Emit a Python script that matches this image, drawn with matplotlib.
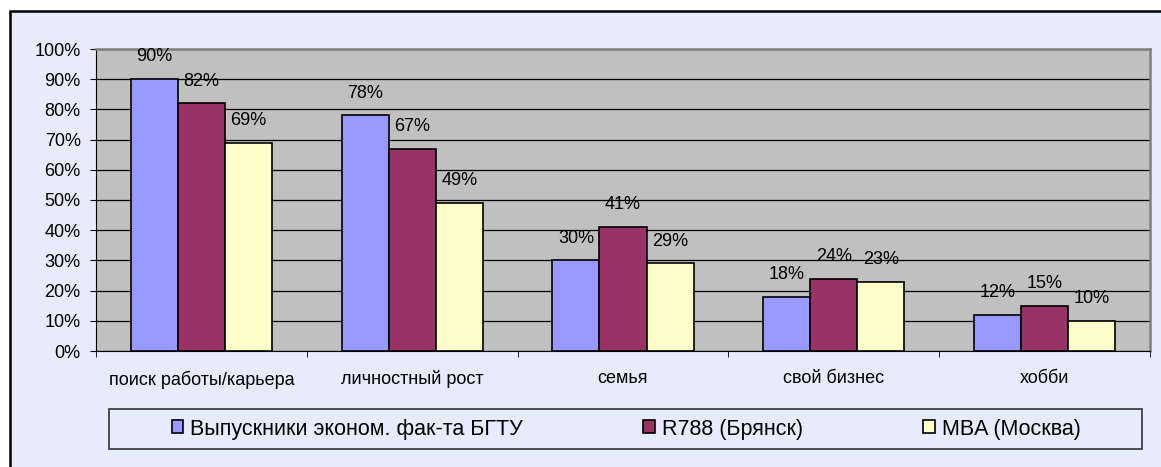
import numpy as np
import matplotlib.pyplot as plt
from matplotlib.patches import Rectangle

plt.rcParams['font.family'] = ['Liberation Sans', 'DejaVu Sans']

# data
categories = ['поиск работы/карьера', 'личностный рост', 'семья', 'свой бизнес', 'хобби']
series_names = ['Выпускники эконом. фак-та БГТУ', 'R788 (Брянск)', 'MBA (Москва)']
bgtu = [0.90, 0.78, 0.30, 0.18, 0.12]
r788 = [0.82, 0.67, 0.41, 0.24, 0.15]
mba = [0.69, 0.49, 0.29, 0.23, 0.10]

colors = ['#9999FF', '#993366', '#FFFFCC']
bg = '#E6ECFB'
W, H = 1161, 467

fig = plt.figure(figsize=(W / 100, H / 100), dpi=100, facecolor='white')

# chart area: light fill with border on left/top (runs off right and bottom edges)
fig.patches.append(Rectangle((10 / W, -0.05), 1.1, 1 - 11 / H + 0.05,
                             transform=fig.transFigure, facecolor=bg,
                             edgecolor='black', linewidth=1.8, zorder=-5))

ax = fig.add_axes([96 / W, 1 - 351 / H, (1150 - 96) / W, (351 - 49) / H])
ax.set_facecolor('#C0C0C0')

x = np.arange(len(categories))
w = 0.223
for i, (vals, c, name) in enumerate(zip([bgtu, r788, mba], colors, series_names)):
    pos = x + (i - 1) * w
    ax.bar(pos, vals, w, color=c, edgecolor='black', linewidth=1.2, label=name, zorder=3)
    for px, v in zip(pos, vals):
        ax.annotate(f'{v * 100:.0f}%', (px, v), xytext=(0, 16), textcoords='offset points',
                    ha='center', va='center', fontsize=13)

ax.set_xlim(-0.5, len(categories) - 0.5)
ax.set_ylim(0, 1)
ax.set_yticks(np.arange(0, 1.01, 0.1))
ax.set_yticklabels([f'{t}%' for t in range(0, 101, 10)], fontsize=13)
ax.yaxis.grid(True, color='black', linewidth=0.9, zorder=0)
ax.set_xticks(x)
ax.set_xticklabels(categories, fontsize=13)
ax.tick_params(axis='x', length=0, pad=14)
ax.set_xticks(np.arange(-0.5, len(categories)), minor=True)
ax.tick_params(axis='x', which='minor', length=4, color='black')
ax.tick_params(axis='y', length=4, direction='out', pad=7)

for s in ['top', 'right']:
    ax.spines[s].set_color('#808080')
    ax.spines[s].set_linewidth(1.8)
ax.spines['left'].set_color('black')
ax.spines['bottom'].set_color('black')

# legend frame drawn separately, items centered inside it
fig.patches.append(Rectangle((109 / W, 1 - 449 / H), (1142 - 109) / W, 40 / H,
                             transform=fig.transFigure, facecolor=bg,
                             edgecolor='#333333', linewidth=1.2, zorder=-4))
leg = fig.legend(loc='center', ncol=3, bbox_to_anchor=(626 / W, 1 - 429 / H),
                 fontsize=15.5, frameon=False, handlelength=0.55, handleheight=0.55,
                 handletextpad=0.3, columnspacing=5.6, borderaxespad=0)

fig.savefig('out.png', dpi=100, facecolor='white')
